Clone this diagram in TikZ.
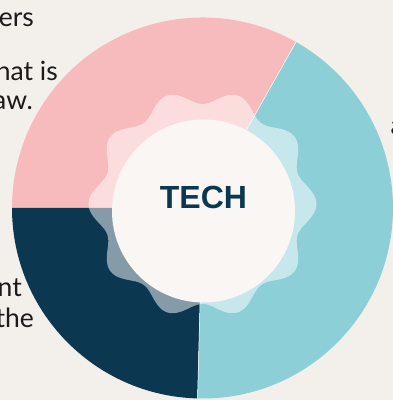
\documentclass[tikz,border=0pt]{standalone}
\usepackage{fontspec}
\setmainfont{Lato}
\newfontfamily\headfont{Liberation Sans}
\usepackage{tikz}
\usetikzlibrary{calc}
\usetikzlibrary{positioning}
\definecolor{paper}{HTML}{F3EFEA}
\definecolor{rose}{HTML}{F7BBBD}
\definecolor{aqua}{HTML}{8DCFD7}
\definecolor{navy}{HTML}{0B3850}
\definecolor{hubfill}{HTML}{FAF6F3}
\definecolor{ink}{HTML}{1B1B1B}
\tikzset{
  slice/.style = {line width=0pt},
  rose_slice/.style = {slice, fill=rose},
  aqua_slice/.style = {slice, fill=aqua},
  navy_slice/.style = {slice, fill=navy},
  split_line/.style = {draw=white, line width=0.5pt},
  wave_ring/.style = {fill=white, fill opacity=0.5},
  hub_node/.style = {circle, fill=hubfill, minimum size=183pt, inner sep=0pt},
  tech_label/.style = {font=\headfont\bfseries\fontsize{32}{32}\selectfont,
    text=navy, inner sep=0pt},
  side_text/.style = {font=\fontsize{26.5}{29}\selectfont, text=ink,
    inner sep=0pt, anchor=base east}
}
\begin{document}
\begin{tikzpicture}[x=1pt, y=1pt]
  \useasboundingbox (0,0) rectangle (393,400);
  \fill[paper] (0,0) rectangle (393,400);

  % donut slices
  \coordinate (c) at (202.5,192);
  \fill[rose_slice] (c) -- ++(60.6:190.5) arc[start angle=60.6, end angle=180, radius=190.5] -- cycle;
  \fill[navy_slice] (c) -- ++(180:190.5) arc[start angle=180, end angle=268.5, radius=190.5] -- cycle;
  \fill[aqua_slice] (c) -- ++(268.5:190.5) arc[start angle=268.5, end angle=420.6, radius=190.5] -- cycle;
  \coordinate (top_split) at ($(c)+(60.6:190.5)$);
  \coordinate (low_split) at ($(c)+(268.5:190.5)$);
  \draw[split_line] (c) -- (top_split);
  \draw[split_line] (c) -- (low_split);

  % wavy ring
  \begin{scope}[shift={(202.5,196)}]
    \fill[wave_ring] plot[domain=0:359, samples=360] (\x:{107+7*cos(10*\x)}) -- cycle;
  \end{scope}

  % hub
  \node[hub_node] (hub) at (203.5,189) {};
  \node[tech_label] (tech) at ([yshift=14pt]hub.center) {TECH};

  % clipped text at the sides
  \node[side_text] (line_a) at (34,373) {ers};
  \node[side_text] (line_b) at (58,319) {hat is};
  \node[side_text] (line_c) at (33,290) {aw.};
  \node[side_text] (line_d) at (22,103) {nt};
  \node[side_text] (line_e) at (34,73) {the};
  \node[side_text, anchor=base west] (line_f) at (390.5,265) {a};
\end{tikzpicture}
\end{document}
